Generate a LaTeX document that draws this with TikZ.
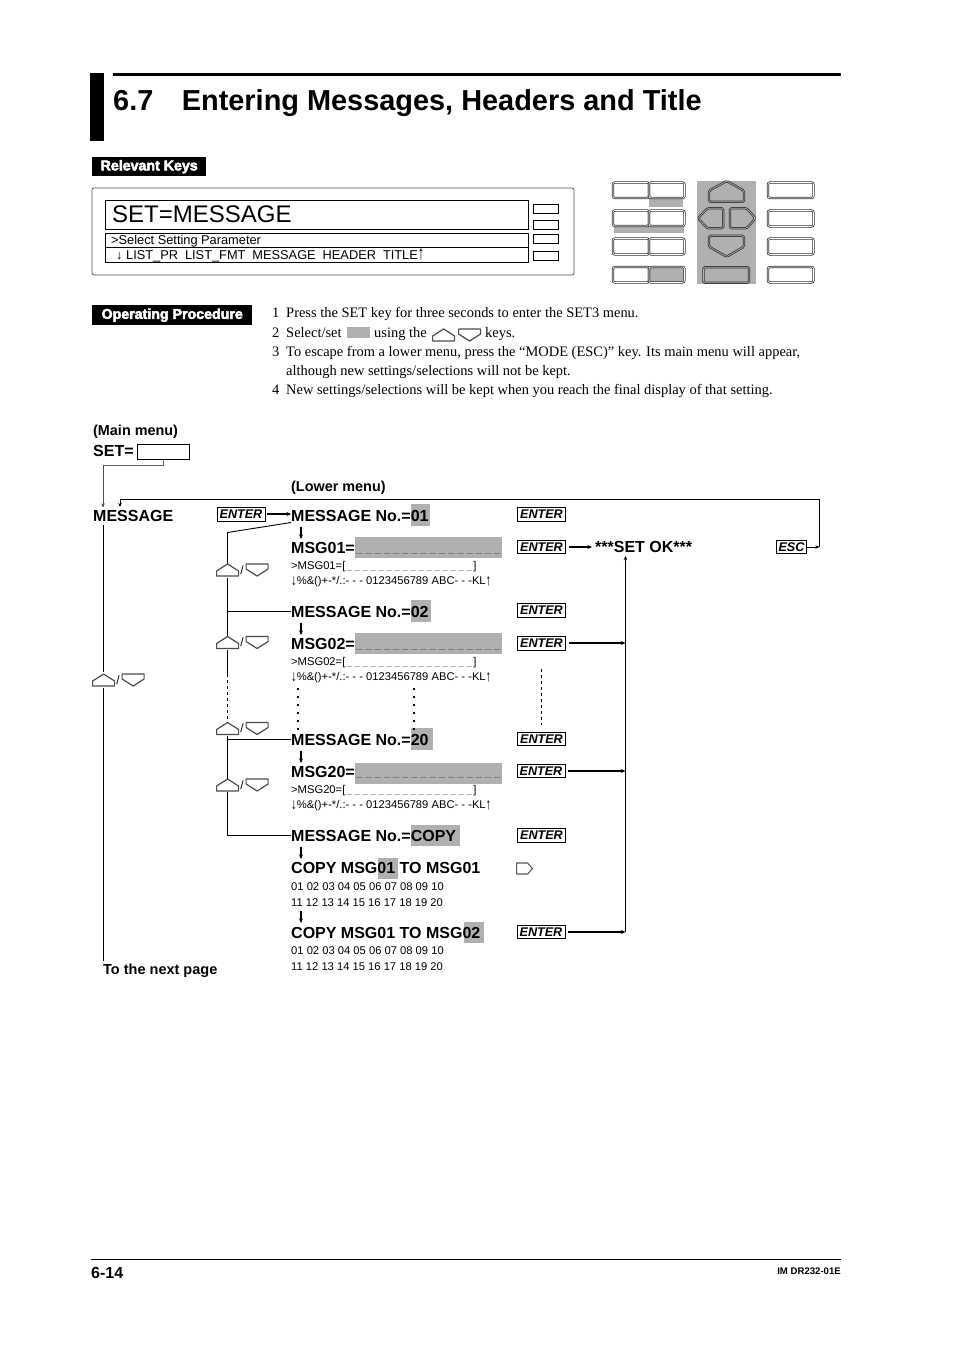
\documentclass[tikz,border=0pt]{standalone}
\usepackage{fontspec}
\usepackage{graphicx}
\usetikzlibrary{arrows.meta,calc}
\setmainfont{Liberation Serif}
\newfontfamily\hv{Liberation Sans}[BoldFeatures={FakeBold=0}]
\newfontfamily\hvheavy{Liberation Sans Bold}[FakeBold=3.5]
\definecolor{sel}{gray}{0.69}
\newcommand\fs[1]{\fontsize{#1}{#1}\selectfont}
\newcommand\iconup{\begin{tikzpicture}[x=1pt,y=-1pt,baseline=(current bounding box.center)]
\draw[keyicon] (11,0)--(22,7)--(22,12)--(0,12)--(0,7)--cycle;\end{tikzpicture}}
\newcommand\icondn{\begin{tikzpicture}[x=1pt,y=-1pt,baseline=(current bounding box.center)]
\draw[keyicon] (0,0)--(22,0)--(22,5)--(11,12)--(0,5)--cycle;\end{tikzpicture}}
\newcommand\updown{\iconup\kern1.2pt\raisebox{-4pt}{\hv\fs{12}/}\kern1.8pt\icondn}
\newcommand\blanks[4]{\foreach \i in {1,...,16}{\makebox[#1pt]{\raisebox{#4pt}{\fs{#2}\color{#3}\_}}}}
\newcommand\bigarr[1]{\raisebox{-.6pt}{\scalebox{1}[1.5]{#1}}}
\newcommand\smarr[1]{\raisebox{-.5pt}{\scalebox{1}[1.4]{#1}}}
\tikzset{
 keyicon/.style={draw=black!70,line width=1.2pt,line join=round},
 lab/.style={anchor=base west,inner sep=0pt,font=\hv\bfseries\fs{16}},
 sm/.style={anchor=base west,inner sep=0pt,font=\hv\fs{11.2}},
 head/.style={anchor=base west,inner sep=0pt,font=\hv\bfseries\fs{14.4}},
 proc/.style={anchor=base west,inner sep=0pt,font=\fs{14.45}},
 lcd/.style={anchor=base west,inner sep=0pt,font=\hv\fs{12.8}},
 keybox/.style={draw,line width=.9pt,inner sep=0pt,minimum height=13.5pt,minimum width=48pt,font=\hv\bfseries\itshape\fs{12.6}},
 escbox/.style={keybox,minimum width=30pt},
 keyp/.style={inner sep=0pt,outer sep=0pt},
 pad/.style={draw=black!80,line width=.8pt,double=white,double distance=.7pt,rounded corners=2pt},
 badge/.style={fill=black,text=white,inner sep=0pt,font=\hvheavy\fs{14.2},anchor=north west},
 flow/.style={draw=black,line width=.9pt},
 flowg/.style={draw=black!60,line width=.9pt},
 arr/.style={flow,-{Stealth[length=4pt,width=3.5pt]}},
 tharr/.style={draw=black,line width=1.6pt,-{Stealth[length=4.5pt,width=4pt]}},
 lcdbox/.style={draw,line width=.8pt},
 softk/.style={draw,line width=.7pt},
 dotv/.style={draw,line width=1.5pt,dash pattern=on 1.8pt off 6.2pt},
}
\begin{document}
\begin{tikzpicture}[x=1pt,y=-1pt]
\useasboundingbox[fill=white] (0,0) rectangle (954,1351);
% header
\fill (90,73) rectangle (104,141);
\fill (113,73) rectangle (841,76);
\node[anchor=base west,inner sep=0pt,font=\hv\bfseries\fs{28.9}] (title) at (113,111) {6.7\hspace{28.5pt}Entering Messages, Headers and Title};
% badges
\node[badge,minimum width=114pt,minimum height=19pt] (rk) at (92,157) {Relevant Keys};
\node[badge,minimum width=160pt,minimum height=20pt] (op) at (92,305) {Operating Procedure};
% display panel
\draw[black!70,line width=.7pt,rounded corners=2pt] (92,188) rectangle (574,275);
\draw[lcdbox] (105,200.5) rectangle (528,229);
\draw[lcdbox] (105,233.5) rectangle (528,262);
\draw[lcdbox] (105,247.5) -- (528,247.5);
\foreach \y in {204,220,234,251}{\draw[softk] (533.5,\y) rectangle (558,\y+9);}
\node[anchor=base west,inner sep=0pt,font=\hv\fs{24}] (setmsg) at (112,222.5) {SET=MESSAGE};
\node[lcd] (sel) at (111,244.5) {>Select Setting Parameter};
\node[lcd] (lst) at (116,259) {↓ LIST\_PR\hspace{3.4pt} LIST\_FMT\hspace{3.4pt} MESSAGE\hspace{3.4pt} HEADER\hspace{3.4pt} TITLE\bigarr{↑}};
% keypad
\fill[sel] (649,197) rectangle (683,207);
\fill[sel] (614,226) rectangle (684,233);
\fill[sel] (697,181) rectangle (756,284);
\fill[sel] (649,267) rectangle (684,283);
\foreach \y/\h in {182.5/15.5,210.5/15.5,238.5/16,267/15.5}{
 \draw[pad] (613,\y) rectangle (649,\y+\h);
 \draw[pad] (649,\y) rectangle (684.5,\y+\h);
 }
\foreach \y/\h in {182.5/15.5,210.5/16,238.5/16,267/15.5}{
 \draw[pad] (768,\y) rectangle (813.5,\y+\h);
 }
\begin{scope}[pad,rounded corners=1.5pt]
\draw[double=sel] (726.7,181)--(744,190.7)--(744,201.7)--(709,201.7)--(709,190.7)--cycle;
\draw[double=sel] (698,218.3)--(707.3,208.3)--(723.3,208.3)--(723.3,228.3)--(707.3,228.3)--cycle;
\draw[double=sel] (730,208.3)--(746.7,208.3)--(755.5,218.3)--(746.7,228.3)--(730,228.3)--cycle;
\draw[double=sel] (709,235.7)--(744,235.7)--(744,246.7)--(726.7,256.7)--(709,246.7)--cycle;
\draw[double=sel] (703.5,267.3) rectangle (749,282.7);
\end{scope}
% procedure
\node[proc] (p1) at (272,317.5) {1\hspace{6.8pt}Press the SET key for three seconds to enter the SET3 menu.};
\node[proc] (p2) at (272,337.5) {2\hspace{6.8pt}Select/set};
\fill[sel] (347,327) rectangle (370,338);
\node[proc] (p2b) at (374,337.5) {using the};
\node[keyp,anchor=west] (p2k1) at (432,335) {\iconup};
\node[keyp,anchor=west] (p2k2) at (458,335) {\icondn};
\node[proc] (p2c) at (485,337.5) {keys.};
\node[proc] (p3) at (272,356.5) {3\hspace{6.8pt}To escape from a lower menu, press the “MODE (ESC)” key. Its main menu will appear,};
\node[proc] (p3b) at (286,375.5) {although new settings/selections will not be kept.};
\node[proc] (p4) at (272,394.5) {4\hspace{6.8pt}New settings/selections will be kept when you reach the final display of that setting.};
% highlights
\fill[sel] (411,504) rectangle (430,526);
\fill[sel] (355,537) rectangle (502,558);
\fill[sel] (411,600) rectangle (431,622);
\fill[sel] (355,633) rectangle (502,654);
\fill[sel] (411,728) rectangle (433,750);
\fill[sel] (355,763) rectangle (502,784);
\fill[sel] (411,825) rectangle (460,846);
\fill[sel] (378,858) rectangle (398,879);
\fill[sel] (464,922) rectangle (484,943);
% main menu
\node[head] (mm) at (93,435) {(Main menu)};
\node[lab] (set) at (93,456) {SET=};
\node[draw,line width=1.1pt,inner sep=0pt,minimum width=52pt,minimum height=15pt,anchor=north west] (setbox) at (137,444) {};
\node[head] (lm) at (291,491) {(Lower menu)};
\node[lab] (msg) at (93,521) {MESSAGE};
\node[keybox,anchor=west] (e0) at (216.5,514.5) {ENTER};
% lower menu labels
\node[lab] (m1) at (291,521) {MESSAGE No.=01};
\node[lab] (s1) at (291,553) {MSG01=\blanks{9.2}{11.5}{black!75}{1}};
\node[sm] (d1) at (291,569) {>MSG01=[\blanks{8}{9}{black!55}{0}]};
\node[sm] (c1) at (291,584.5) {\smarr{↓}\%\&()+-*/.:- - - 0123456789 ABC- - -KL\smarr{↑}};
\node[lab] (m2) at (291,617) {MESSAGE No.=02};
\node[lab] (s2) at (291,649) {MSG02=\blanks{9.2}{11.5}{black!75}{1}};
\node[sm] (d2) at (291,665) {>MSG02=[\blanks{8}{9}{black!55}{0}]};
\node[sm] (c2) at (291,680.5) {\smarr{↓}\%\&()+-*/.:- - - 0123456789 ABC- - -KL\smarr{↑}};
\node[lab] (m3) at (291,745) {MESSAGE No.=20};
\node[lab] (s3) at (291,777) {MSG20=\blanks{9.2}{11.5}{black!75}{1}};
\node[sm] (d3) at (291,793) {>MSG20=[\blanks{8}{9}{black!55}{0}]};
\node[sm] (c3) at (291,808.5) {\smarr{↓}\%\&()+-*/.:- - - 0123456789 ABC- - -KL\smarr{↑}};
\node[lab] (m4) at (291,841) {MESSAGE No.=COPY};
\node[lab] (cp1) at (291,873) {COPY MSG01 TO MSG01};
\node[sm] (n1) at (291,890) {01 02 03 04 05 06 07 08 09 10};
\node[sm] (n2) at (291,906) {11 12 13 14 15 16 17 18 19 20};
\node[lab] (cp2) at (291,938) {COPY MSG01 TO MSG02};
\node[sm] (n3) at (291,954) {01 02 03 04 05 06 07 08 09 10};
\node[sm] (n4) at (291,970) {11 12 13 14 15 16 17 18 19 20};
\node[anchor=base west,inner sep=0pt,font=\hv\bfseries\fs{14.5}] (next) at (103,974) {To the next page};
% right ENTER column
\foreach \n/\x/\y in {e1/517/514.5,e2/517/547,e3/517/610.5,e4/517/643.5,e5/517/739,e6/516.5/771,e7/517/835.5,e8/516.5/932}{
 \node[keybox,anchor=west] (\n) at (\x,\y) {ENTER};
}
\node[lab] (ok) at (595,552) {***SET OK***};
\node[escbox,anchor=west] (esc) at (776,547) {ESC};
% key icons
\node[keyp,anchor=west] (k0) at (92,680) {\updown};
\node[keyp,anchor=west] (k1) at (216,570) {\updown};
\node[keyp,anchor=west] (k2) at (216,642.5) {\updown};
\node[keyp,anchor=west] (k3) at (216,728.5) {\updown};
\node[keyp,anchor=west] (k4) at (216,785) {\updown};
\node[keyp,anchor=west,inner sep=0pt] (kr) at (516,868.5) {\tikz[x=1pt,y=-1pt]\draw[draw=black!65,line width=1.1pt,line join=round] (0,0)--(11,0)--(16,5.5)--(11,11)--(0,11)--cycle;};
% coordinates
\coordinate (a0) at (163,465);
\coordinate (a1) at (103,465);
\coordinate (a2) at (103,507.5);
\coordinate (b0) at (103,525);
\coordinate (b1) at (103,672);
\coordinate (b2) at (103,688);
\coordinate (b3) at (103,961);
\coordinate (r0) at (120,499);
\coordinate (r1) at (819.5,499);
\coordinate (r2) at (819.5,547);
\coordinate (r3) at (120,507);
\coordinate (j1) at (291,522.5);
\coordinate (j2) at (227.5,532.5);
\coordinate (j3) at (227.5,563.5);
\coordinate (j4) at (227.5,577.5);
\coordinate (j5) at (227.5,611);
\coordinate (j6) at (227.5,635.5);
\coordinate (j7) at (227.5,650);
\coordinate (j8) at (227.5,674);
\coordinate (j9) at (227.5,722);
\coordinate (j10) at (227.5,736);
\coordinate (j11) at (227.5,739);
\coordinate (j12) at (227.5,778.5);
\coordinate (j13) at (227.5,792);
\coordinate (j14) at (227.5,835);
\coordinate (v0) at (625.5,932);
\coordinate (v1) at (625.5,643);
\coordinate (v2) at (625.5,771);
\coordinate (v3) at (625.5,556);
% connectors
\draw[flowg] (setbox.south -| a0) -- (a0) -- (a1);
\draw[arr,draw=black!70] (a1) -- (a2);
\draw[flow] (b0) -- (b1);
\draw[flow] (b2) -- (b3);
\draw[flow] (r2) -- (r1) -- (r0);
\draw[arr] (r0) -- (r3);
\draw[arr] (esc.east) -- (r2);
\coordinate (e0s) at ($(e0.east)+(2,-.5)$);
\draw[tharr] (e0s) -- (m1.west |- e0s);
\draw[tharr] (e2.east) ++(3,0) -- ($(ok.west |- e2.east)+(-3,0)$);
\coordinate (e4s) at ($(e4.east)+(3,-.5)$);
\draw[tharr] (e4s) -- (v1);
\draw[tharr] (e6.east) ++(3,0) -- (v2);
\draw[tharr] (e8.east) ++(3,0) -- (v0);
\draw[arr] (v0) -- (v3);
\draw[flow] (j1) -- (j2) -- (j3);
\draw[flow] (j4) -- (j6);
\draw[flow] (j5) -- (m2.west |- j5);
\draw[flow] (j7) -- (j8);
\draw[flow,dash pattern=on 3pt off 3pt] (j8) -- (j9);
\draw[flow] (j10) -- (j12);
\draw[flow] (j11) -- (m3.west |- j11);
\draw[flow] (j13) -- (j14) -- (m4.west |- j14);
\draw[tharr] (301,527) -- (301,539);
\draw[tharr] (301,623) -- (301,635);
\draw[tharr] (301,751) -- (301,763);
\draw[tharr] (301,847) -- (301,859);
\draw[tharr] (301,911) -- (301,923);
\draw[dotv] (298,688) -- (298,734);
\draw[dotv] (414,688) -- (414,734);
\draw[flow,dash pattern=on 3pt off 3pt] (541,669) -- (541,725);
% footer
\draw[line width=.7pt] (91,1259.5) -- (841,1259.5);
\node[anchor=base west,inner sep=0pt,font=\hv\bfseries\fs{16}] (pg) at (91,1278) {6-14};
\node[anchor=base east,inner sep=0pt,font=\hv\bfseries\fs{9.6}] (im) at (841,1274) {IM DR232-01E};
\end{tikzpicture}
\end{document}
